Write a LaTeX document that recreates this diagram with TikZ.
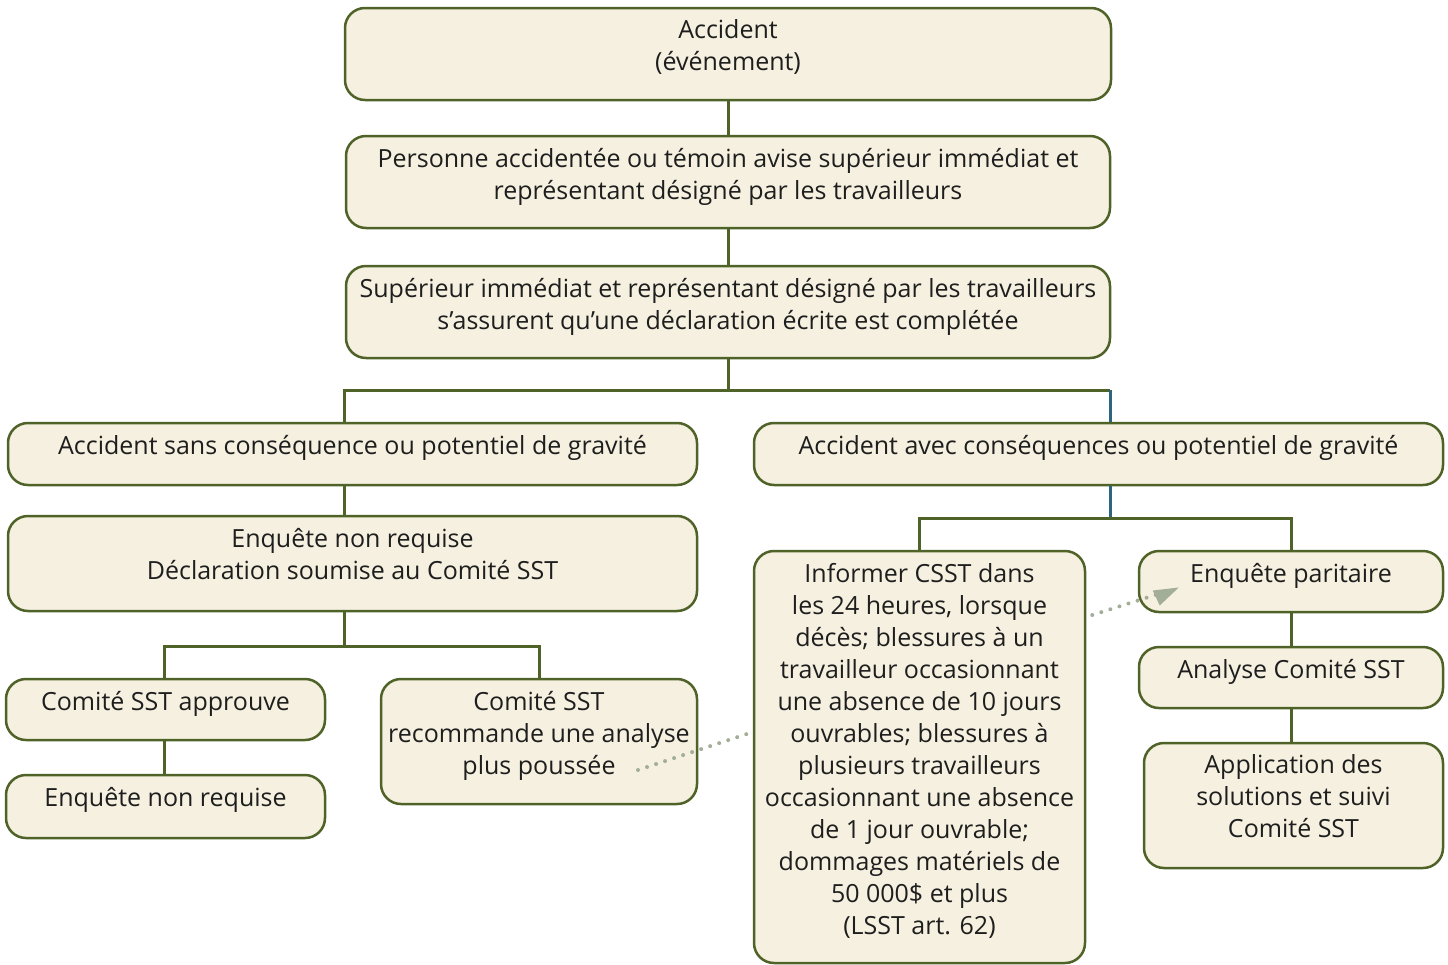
\documentclass[tikz,border=0pt]{standalone}
\usepackage{fontspec}
\setmainfont{Open Sans}
\usetikzlibrary{calc}
\usetikzlibrary{arrows.meta}

\definecolor{boxline}{HTML}{4F6228}
\definecolor{boxfill}{HTML}{F5F0DF}
\definecolor{linkblue}{HTML}{2F6480}
\definecolor{dotgreen}{HTML}{A3AE98}
\definecolor{ink}{HTML}{1E1E1E}

\tikzset{
  box/.style={draw=boxline, fill=boxfill, line width=2.5, rounded corners=20, inner sep=0},
  txt/.style={anchor=north, yshift=-13, inner sep=0, align=center, text=ink,
    font=\fontsize{25}{32}\selectfont},
  link/.style={draw=boxline, line width=3},
  dots/.style={draw=dotgreen, line width=4, line cap=round, dash pattern=on 0pt off 9.5pt},
}

\begin{document}
\begin{tikzpicture}[x=1pt, y=-1pt]
  \useasboundingbox (0,0) rectangle (1448,964);
  \node[box, minimum width=766, minimum height=92,
    label={[txt]north:Accident\\(événement)}] (accident) at (728,54) {};
  \node[box, minimum width=764, minimum height=92,
    label={[txt]north:Personne accidentée ou témoin avise supérieur immédiat et\\représentant désigné par les travailleurs}] (personne) at (728,182) {};
  \node[box, minimum width=764, minimum height=92,
    label={[txt]north:Supérieur immédiat et représentant désigné par les travailleurs\\s’assurent qu’une déclaration écrite est complétée}] (superieur) at (728,312) {};
  \node[box, minimum width=689, minimum height=62,
    label={[txt]north:Accident sans conséquence ou potentiel de gravité}] (sans) at (352.5,454) {};
  \node[box, minimum width=689, minimum height=62,
    label={[txt]north:Accident avec conséquences ou potentiel de gravité}] (avec) at (1098.5,454) {};
  \node[box, minimum width=689, minimum height=95,
    label={[txt]north:Enquête non requise\\Déclaration soumise au Comité SST}] (nonrequise) at (352.5,563.5) {};
  \node[box, minimum width=319, minimum height=61,
    label={[txt]north:Comité SST approuve}] (approuve) at (165.5,709.5) {};
  \node[box, minimum width=316, minimum height=125,
    label={[txt]north:Comité SST\\recommande une analyse\\plus poussée}] (recommande) at (539,741.5) {};
  \node[box, minimum width=319, minimum height=63,
    label={[txt]north:Enquête non requise}] (nonrequisebis) at (165.5,806.5) {};
  \node[box, minimum width=331, minimum height=412,
    label={[txt]north:Informer CSST dans\\les 24 heures, lorsque\\décès; blessures à un\\travailleur occasionnant\\une absence de 10 jours\\ouvrables; blessures à\\plusieurs travailleurs\\occasionnant une absence\\de 1 jour ouvrable;\\dommages matériels de\\50 000\$ et plus\\(LSST art. 62)}] (informer) at (919.5,757) {};
  \node[box, minimum width=304, minimum height=61,
    label={[txt]north:Enquête paritaire}] (paritaire) at (1291,581.5) {};
  \node[box, minimum width=304, minimum height=61,
    label={[txt]north:Analyse Comité SST}] (analyse) at (1291,677.5) {};
  \node[box, minimum width=299, minimum height=125,
    label={[txt]north:Application des\\solutions et suivi\\Comité SST}] (application) at (1293.5,805.5) {};

  % connectors
  \coordinate (split) at ($(superieur.south)+(0,31)$);
  \coordinate (sansin) at ([xshift=-8.5]sans.north);
  \coordinate (avecin) at ([xshift=11.5]avec.north);
  \coordinate (avecout) at ([xshift=11.5]avec.south);
  \coordinate (splitl) at ($([xshift=-8.5]nonrequise.south)+(0,34)$);
  \coordinate (splitr) at ($(avecout)+(0,32)$);
  \draw[link] (accident) -- (personne);
  \draw[link] (personne) -- (superieur);
  \draw[link] (superieur.south) -- (split);
  \draw[link] (split) -| (sansin);
  \draw[link] (split) -- (split -| avecin);
  \draw[link, draw=linkblue] (split -| avecin) -- (avecin);
  \draw[link] (sansin |- sans.south) -- (sansin |- nonrequise.north);
  \draw[link] ([xshift=-8.5]nonrequise.south) -- (splitl);
  \draw[link] (splitl) -| ([xshift=-1.5]approuve.north);
  \draw[link] (splitl) -| (recommande.north);
  \draw[link] ([xshift=-1.5]approuve.south) -- ([xshift=-1.5]nonrequisebis.north);
  \draw[link, draw=linkblue] (avecout) -- (splitr);
  \draw[link] (splitr) -| (informer.north);
  \draw[link] (splitr) -| (paritaire.north);
  \draw[link] (paritaire) -- (analyse);
  \draw[link] (analyse.south) -- (analyse.south |- application.north);

  % dotted links
  \coordinate (fromrec) at (638,770);
  \coordinate (torec) at ([yshift=25]informer.west);
  \coordinate (frominf) at ([xshift=6,yshift=142]informer.east);
  \coordinate (topar) at ([xshift=41,yshift=-6]paritaire.west);
  \draw[dots] (fromrec) -- (torec);
  \draw[dots] (frominf) -- ($(frominf)!0.78!(topar)$);
  \fill[dotgreen] (topar) -- ++(-26,3) -- ++(7,15) -- cycle;
\end{tikzpicture}
\end{document}
